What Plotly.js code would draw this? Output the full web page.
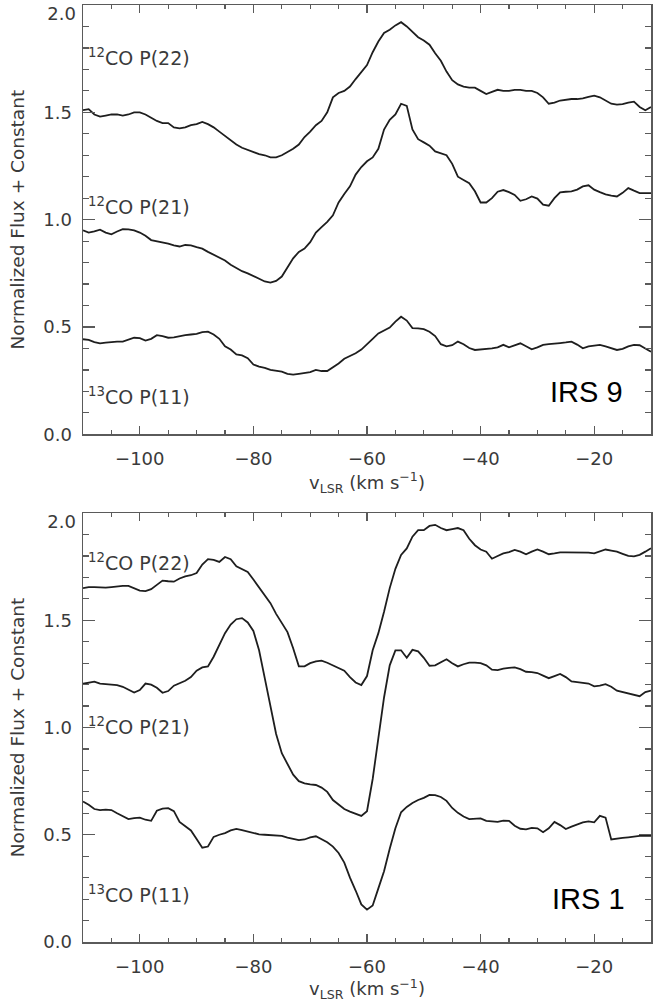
<!DOCTYPE html>
<html>
<head>
<meta charset="utf-8">
<script src="https://cdn.plot.ly/plotly-3.0.1.min.js"></script>
<style>html,body{margin:0;padding:0;background:#fff;}#chart{width:664px;height:1002px;}</style>
</head>
<body>
<div id="chart"></div>
<script>
// Velocity grid (km/s)
const velocity = [-110,-109,-108,-107,-106,-105,-104,-103,-102,-101,-100,-99,-98,-97,-96,-95,-94,-93,-92,-91,-90,-89,-88,-87,-86,-85,-84,-83,-82,-81,-80,-79,-78,-77,-76,-75,-74,-73,-72,-71,-70,-69,-68,-67,-66,-65,-64,-63,-62,-61,-60,-59,-58,-57,-56,-55,-54,-53,-52,-51,-50,-49,-48,-47,-46,-45,-44,-43,-42,-41,-40,-39,-38,-37,-36,-35,-34,-33,-32,-31,-30,-29,-28,-27,-26,-25,-24,-23,-22,-21,-20,-19,-18,-17,-16,-15,-14,-13,-12,-11,-10];

// IRS 9 (top panel)
const irs9_p22 = [1.51,1.515,1.49,1.48,1.485,1.49,1.49,1.485,1.49,1.50,1.50,1.49,1.475,1.46,1.45,1.45,1.43,1.425,1.43,1.44,1.445,1.455,1.445,1.43,1.41,1.39,1.37,1.35,1.335,1.325,1.315,1.305,1.30,1.29,1.29,1.30,1.315,1.33,1.35,1.385,1.41,1.44,1.46,1.50,1.57,1.59,1.60,1.62,1.655,1.69,1.72,1.78,1.83,1.87,1.885,1.905,1.92,1.90,1.875,1.85,1.835,1.815,1.775,1.74,1.69,1.65,1.63,1.62,1.615,1.615,1.60,1.585,1.595,1.605,1.60,1.60,1.605,1.605,1.60,1.60,1.59,1.57,1.54,1.545,1.555,1.56,1.562,1.562,1.565,1.572,1.578,1.57,1.555,1.54,1.536,1.538,1.545,1.55,1.525,1.51,1.525];
const irs9_p21 = [0.95,0.94,0.945,0.953,0.94,0.932,0.945,0.956,0.955,0.95,0.94,0.925,0.905,0.90,0.892,0.888,0.88,0.875,0.882,0.88,0.872,0.865,0.85,0.836,0.825,0.81,0.79,0.773,0.76,0.75,0.738,0.725,0.712,0.707,0.715,0.735,0.775,0.82,0.85,0.865,0.895,0.94,0.965,0.99,1.02,1.08,1.12,1.155,1.21,1.245,1.272,1.29,1.33,1.42,1.465,1.49,1.54,1.53,1.42,1.375,1.36,1.345,1.318,1.31,1.30,1.26,1.20,1.185,1.17,1.132,1.08,1.08,1.10,1.13,1.138,1.128,1.115,1.088,1.095,1.108,1.098,1.07,1.065,1.10,1.127,1.13,1.132,1.14,1.155,1.16,1.14,1.128,1.118,1.112,1.108,1.125,1.147,1.135,1.124,1.124,1.124];
const irs9_p11 = [0.443,0.44,0.43,0.424,0.427,0.43,0.432,0.432,0.44,0.45,0.448,0.437,0.445,0.462,0.458,0.45,0.452,0.458,0.462,0.465,0.468,0.476,0.478,0.465,0.445,0.41,0.395,0.372,0.368,0.355,0.325,0.315,0.31,0.30,0.297,0.292,0.282,0.278,0.282,0.286,0.29,0.30,0.295,0.295,0.312,0.33,0.352,0.365,0.378,0.395,0.418,0.445,0.47,0.485,0.497,0.525,0.548,0.53,0.495,0.494,0.49,0.478,0.458,0.42,0.41,0.415,0.432,0.42,0.402,0.393,0.395,0.40,0.40,0.405,0.417,0.405,0.415,0.424,0.41,0.396,0.405,0.417,0.42,0.424,0.425,0.428,0.432,0.418,0.401,0.41,0.415,0.417,0.41,0.40,0.393,0.398,0.41,0.417,0.415,0.40,0.385];

// IRS 1 (bottom panel)
const irs1_p22 = [1.65,1.655,1.655,1.652,1.652,1.655,1.658,1.66,1.66,1.65,1.638,1.636,1.645,1.665,1.685,1.682,1.68,1.695,1.705,1.71,1.72,1.76,1.785,1.782,1.772,1.795,1.785,1.752,1.74,1.725,1.69,1.655,1.62,1.58,1.53,1.49,1.445,1.37,1.285,1.285,1.30,1.308,1.312,1.302,1.29,1.28,1.265,1.235,1.21,1.198,1.24,1.36,1.44,1.54,1.65,1.74,1.805,1.835,1.89,1.92,1.92,1.94,1.945,1.93,1.92,1.925,1.93,1.92,1.88,1.85,1.83,1.82,1.787,1.80,1.812,1.818,1.828,1.82,1.808,1.82,1.83,1.82,1.808,1.812,1.817,1.817,1.817,1.818,1.818,1.815,1.812,1.822,1.83,1.825,1.82,1.81,1.80,1.798,1.805,1.82,1.836];
const irs1_p21 = [1.204,1.21,1.214,1.205,1.202,1.20,1.198,1.19,1.175,1.163,1.175,1.205,1.20,1.185,1.162,1.17,1.195,1.208,1.218,1.235,1.265,1.28,1.285,1.33,1.385,1.44,1.48,1.505,1.51,1.49,1.45,1.36,1.23,1.10,0.97,0.88,0.83,0.78,0.75,0.74,0.735,0.732,0.72,0.70,0.662,0.64,0.62,0.608,0.598,0.588,0.61,0.76,0.95,1.14,1.29,1.36,1.36,1.325,1.362,1.355,1.325,1.288,1.29,1.305,1.318,1.30,1.285,1.295,1.303,1.303,1.30,1.29,1.27,1.268,1.275,1.278,1.28,1.272,1.26,1.258,1.254,1.242,1.23,1.24,1.25,1.235,1.215,1.212,1.21,1.205,1.192,1.195,1.202,1.19,1.172,1.165,1.158,1.152,1.146,1.165,1.172];
const irs1_p11 = [0.655,0.64,0.62,0.615,0.617,0.615,0.60,0.585,0.573,0.578,0.58,0.57,0.565,0.612,0.622,0.624,0.61,0.56,0.538,0.52,0.48,0.44,0.445,0.49,0.50,0.508,0.52,0.527,0.522,0.515,0.508,0.502,0.50,0.498,0.497,0.495,0.487,0.48,0.475,0.478,0.488,0.493,0.48,0.465,0.445,0.415,0.37,0.30,0.24,0.175,0.151,0.17,0.25,0.33,0.435,0.53,0.605,0.63,0.648,0.662,0.672,0.686,0.685,0.676,0.658,0.625,0.602,0.585,0.573,0.575,0.576,0.565,0.562,0.56,0.566,0.565,0.542,0.528,0.525,0.532,0.53,0.512,0.53,0.56,0.545,0.527,0.538,0.548,0.558,0.562,0.558,0.588,0.58,0.478,0.48,0.485,0.488,0.492,0.495,0.495,0.495];

// Labels
const lineLabels = ['<sup>12</sup>CO P(22)', '<sup>12</sup>CO P(21)', '<sup>13</sup>CO P(11)'];
const sourceNames = ['IRS 9', 'IRS 1'];
const xTicks = [-100, -80, -60, -40, -20];
const yTicks = [0, 0.5, 1.0, 1.5, 2.0];
const yTickText = ['0.0', '0.5', '1.0', '1.5', ''];
const yTopTick = [2.0];
const yTopText = ['2.0'];
const topLabelY = [1.76, 1.065, 0.18];
const botLabelY = [1.774, 1.005, 0.225];

const lineStyle = {color: '#1e1e1e', width: 1.8, shape: 'linear'};
function tr(y, xa, ya) {
  return {x: velocity, y: y, type: 'scatter', mode: 'lines', line: lineStyle, xaxis: xa, yaxis: ya, hoverinfo: 'skip', showlegend: false};
}
function dummy(xa, ya) {
  return {x: [null], y: [null], type: 'scatter', mode: 'lines', xaxis: xa, yaxis: ya, hoverinfo: 'skip', showlegend: false};
}
const data = [
  tr(irs9_p22, 'x', 'y'), tr(irs9_p21, 'x', 'y'), tr(irs9_p11, 'x', 'y'),
  tr(irs1_p22, 'x2', 'y2'), tr(irs1_p21, 'x2', 'y2'), tr(irs1_p11, 'x2', 'y2'),
  dummy('x', 'y3'), dummy('x2', 'y4')
];

const axCol = '#5a5a5a';
const txtCol = '#3a3a3a';
const tickFont = {family: 'DejaVu Sans', size: 18, color: txtCol};
function xAxis(anchor) {
  return {
    anchor: anchor, range: [-110, -10], tickvals: xTicks, ticks: 'inside', ticklen: 8, tickwidth: 1.3,
    tickcolor: axCol, showline: true, linecolor: axCol, linewidth: 1.5, mirror: 'ticks',
    showgrid: false, zeroline: false, tickfont: tickFont, ticklabelstandoff: 8,
    minor: {tick0: 0, dtick: 5, ticks: 'inside', ticklen: 4, tickwidth: 1.2, tickcolor: axCol, showgrid: false},
    title: {text: 'v<sub>LSR</sub> (km s<sup>\u22121</sup>)', font: {family: 'DejaVu Sans', size: 18, color: txtCol}, standoff: 6},
    automargin: false
  };
}
function yAxis(anchor, domain) {
  return {
    anchor: anchor, domain: domain, range: [0, 2.0], tickvals: yTicks, ticktext: yTickText, ticks: 'inside', ticklen: 12, tickwidth: 1.3,
    tickcolor: axCol, showline: true, linecolor: axCol, linewidth: 1.5, mirror: 'ticks',
    showgrid: false, zeroline: false, tickfont: tickFont, ticklabelstandoff: 6,
    minor: {tick0: 0, dtick: 0.1, ticks: 'inside', ticklen: 6, tickwidth: 1.2, tickcolor: axCol, showgrid: false},
    title: {text: 'Normalized Flux + Constant', font: {family: 'DejaVu Sans', size: 18.5, color: txtCol}, standoff: 14},
    automargin: false
  };
}
function yTopAxis(over, anchor) {
  return {
    overlaying: over, anchor: anchor, side: 'left', range: [0, 2.0], tickvals: yTopTick, ticktext: yTopText, ticks: '',
    showline: false, showgrid: false, zeroline: false, tickfont: tickFont, ticklabelstandoff: 6, ticklabelshift: 9,
    automargin: false
  };
}

const annotations = [];
lineLabels.forEach((t, i) => {
  annotations.push({text: t, xref: 'x domain', yref: 'y', x: 0.005, y: topLabelY[i], xanchor: 'left', yanchor: 'middle', showarrow: false, font: {family: 'DejaVu Sans', size: 19, color: txtCol}});
  annotations.push({text: t, xref: 'x2 domain', yref: 'y2', x: 0.005, y: botLabelY[i], xanchor: 'left', yanchor: 'middle', showarrow: false, font: {family: 'DejaVu Sans', size: 19, color: txtCol}});
});
annotations.push({text: sourceNames[0], xref: 'x domain', yref: 'y', x: 0.886, y: 0.197, xanchor: 'center', yanchor: 'middle', showarrow: false, font: {family: 'Liberation Sans', size: 29, color: '#000'}});
annotations.push({text: sourceNames[1], xref: 'x2 domain', yref: 'y2', x: 0.89, y: 0.202, xanchor: 'center', yanchor: 'middle', showarrow: false, font: {family: 'Liberation Sans', size: 29, color: '#000'}});

const layout = {
  width: 664, height: 1002,
  margin: {l: 83, r: 13, t: 5, b: 60},
  paper_bgcolor: '#fff', plot_bgcolor: '#fff',
  showlegend: false,
  xaxis: xAxis('y'),
  yaxis: yAxis('x', [0.5418, 1]),
  xaxis2: xAxis('y2'),
  yaxis2: yAxis('x2', [0, 0.4578]),
  yaxis3: yTopAxis('y', 'x'),
  yaxis4: yTopAxis('y2', 'x2'),
  annotations: annotations
};

Plotly.newPlot('chart', data, layout, {staticPlot: true, displayModeBar: false});
</script>
</body>
</html>
